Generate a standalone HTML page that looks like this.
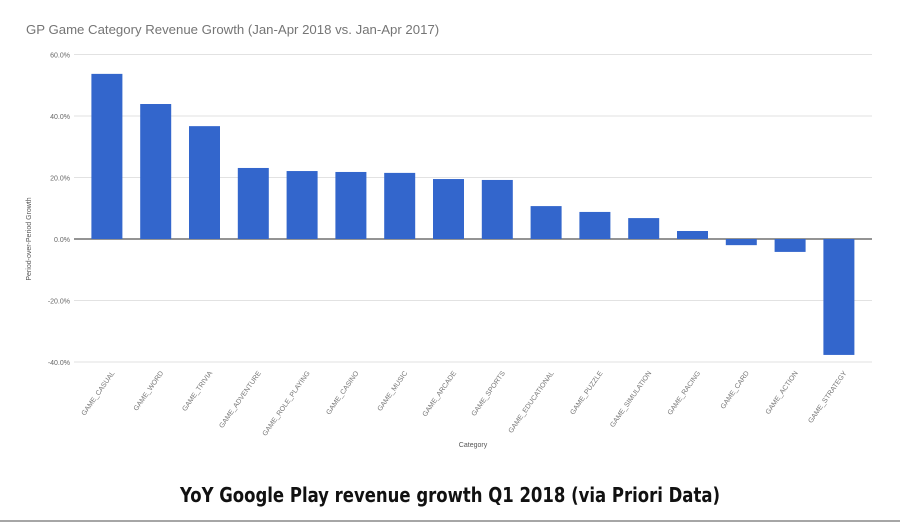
<!DOCTYPE html>
<html><head><meta charset="utf-8"><style>
body{margin:0;width:900px;height:525px;background:#fff;overflow:hidden;font-family:"Liberation Sans",sans-serif}
svg{display:block}
</style></head><body>
<svg width="900" height="525">
<text x="26" y="34" font-size="13.2" fill="#757575">GP Game Category Revenue Growth (Jan-Apr 2018 vs. Jan-Apr 2017)</text>
<g id="grid"></g><g id="bars"></g><g id="xl"></g>
<text transform="translate(31,239) rotate(-90)" text-anchor="middle" font-size="7" fill="#555">Period-over-Period Growth</text>
<text x="473" y="447" text-anchor="middle" font-size="7" fill="#555">Category</text>
<text x="450" y="502" text-anchor="middle" font-size="20" font-weight="bold" textLength="540" lengthAdjust="spacingAndGlyphs" fill="#111" font-family="'DejaVu Sans Condensed','Liberation Sans Narrow',sans-serif">YoY Google Play revenue growth Q1 2018 (via Priori Data)</text>
<line x1="0" y1="521" x2="900" y2="521" stroke="#888" stroke-width="1.5"/>
</svg>
<script>
const categories=["GAME_CASUAL","GAME_WORD","GAME_TRIVIA","GAME_ADVENTURE","GAME_ROLE_PLAYING","GAME_CASINO","GAME_MUSIC","GAME_ARCADE","GAME_SPORTS","GAME_EDUCATIONAL","GAME_PUZZLE","GAME_SIMULATION","GAME_RACING","GAME_CARD","GAME_ACTION","GAME_STRATEGY"];
const values=[53.7,43.9,36.7,23.1,22.1,21.8,21.5,19.5,19.2,10.7,8.8,6.8,2.6,-2.0,-4.2,-37.7];
const ticks=[60,40,20,0,-20,-40];
const tickLabels=["60.0%","40.0%","20.0%","0.0%","-20.0%","-40.0%"];
const NS="http://www.w3.org/2000/svg";
const L=74,R=872,step=48.8,x0=82.5,bw=31;
const y=v=>239-v*3.075;
const xc=i=>x0+step*i+step/2;
function mk(t,a,p){const e=document.createElementNS(NS,t);for(const k in a)e.setAttribute(k,a[k]);p.appendChild(e);return e;}
const g=document.getElementById('grid'),b=document.getElementById('bars'),xl=document.getElementById('xl');
ticks.forEach((t,i)=>{
 const ln=mk('line',{x1:L,x2:R,y1:y(t),y2:y(t),stroke:t===0?'#555':'#e2e2e2','stroke-width':t===0?1.2:1},g);
 
 
 const tx=mk('text',{x:70,y:y(t)+3,'text-anchor':'end','font-size':7,fill:'#666'},g);
 tx.textContent=tickLabels[i];
 
 
});
values.forEach((v,i)=>{
 const r=mk('rect',{x:xc(i)-bw/2,y:Math.min(y(v),y(0)),width:bw,height:Math.abs(y(v)-y(0)),fill:'#3366cc'},b);
 
 
 const t=mk('text',{transform:`translate(${xc(i)+8},373) rotate(-55)`,'text-anchor':'end','font-size':7,fill:'#777'},xl);
 t.textContent=categories[i];
 
 
});
</script>
</body></html>
